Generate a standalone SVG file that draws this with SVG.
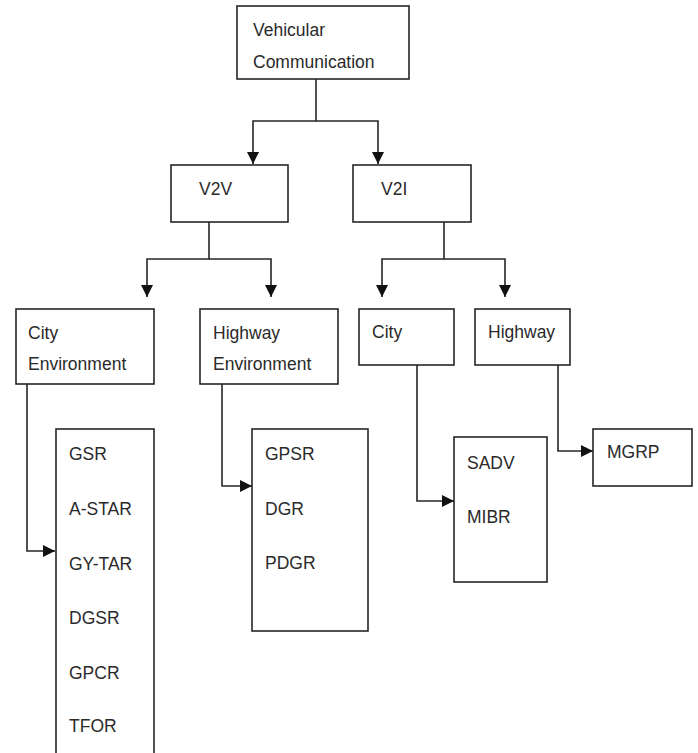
<svg xmlns="http://www.w3.org/2000/svg" width="698" height="753" viewBox="0 0 698 753">
  <style>
    .box { fill: #ffffff; stroke: #262626; stroke-width: 1.6; }
    .lbl { font-family: "Liberation Sans", Arial, sans-serif; font-size: 17.5px; fill: #2a2a2a; }
    .wire { fill: none; stroke: #262626; stroke-width: 1.6; marker-end: url(#arrow); }
  </style>
  <defs>
    <marker id="arrow" markerUnits="userSpaceOnUse" markerWidth="14" markerHeight="12" refX="12" refY="6" orient="auto">
      <path d="M0,0 L12,6 L0,12 Z" fill="#111111"/>
    </marker>
  </defs>
  <rect width="698" height="753" fill="#ffffff"/>

  <!-- connectors -->
  <g id="connectors">
    <path class="wire" d="M316,79 V121 H253 V164"/>
    <path class="wire" d="M316,121 H378 V164"/>
    <path class="wire" d="M209,222 V259 H147 V297"/>
    <path class="wire" d="M209,259 H271 V297"/>
    <path class="wire" d="M444,222 V259 H382 V297"/>
    <path class="wire" d="M444,259 H505 V297"/>
    <path class="wire" d="M27,384 V551 H55"/>
    <path class="wire" d="M222,384 V486 H252"/>
    <path class="wire" d="M417,365 V501 H454"/>
    <path class="wire" d="M558,365 V451 H593"/>
  </g>

  <g id="vehicular-communication">
    <rect class="box" x="237" y="6" width="172" height="73"/>
    <text class="lbl" x="253" y="36">Vehicular</text>
    <text class="lbl" x="253" y="68">Communication</text>
  </g>

  <g id="v2v">
    <rect class="box" x="171" y="165" width="117" height="57"/>
    <text class="lbl" x="199" y="195">V2V</text>
  </g>

  <g id="v2i">
    <rect class="box" x="353" y="165" width="118" height="57"/>
    <text class="lbl" x="381" y="195">V2I</text>
  </g>

  <g id="city-environment">
    <rect class="box" x="16" y="309" width="138" height="75"/>
    <text class="lbl" x="28" y="339">City</text>
    <text class="lbl" x="28" y="370">Environment</text>
  </g>

  <g id="highway-environment">
    <rect class="box" x="200" y="309" width="138" height="75"/>
    <text class="lbl" x="213" y="339">Highway</text>
    <text class="lbl" x="213" y="370">Environment</text>
  </g>

  <g id="city">
    <rect class="box" x="359" y="309" width="95" height="56"/>
    <text class="lbl" x="372" y="338">City</text>
  </g>

  <g id="highway">
    <rect class="box" x="475" y="309" width="95" height="56"/>
    <text class="lbl" x="488" y="338">Highway</text>
  </g>

  <g id="city-env-protocols">
    <rect class="box" x="56" y="429" width="98" height="330"/>
    <text class="lbl" x="69" y="460">GSR</text>
    <text class="lbl" x="69" y="515">A-STAR</text>
    <text class="lbl" x="69" y="570">GY-TAR</text>
    <text class="lbl" x="69" y="624">DGSR</text>
    <text class="lbl" x="69" y="679">GPCR</text>
    <text class="lbl" x="69" y="732">TFOR</text>
  </g>

  <g id="highway-env-protocols">
    <rect class="box" x="252" y="429" width="116" height="202"/>
    <text class="lbl" x="265" y="460">GPSR</text>
    <text class="lbl" x="265" y="515">DGR</text>
    <text class="lbl" x="265" y="569">PDGR</text>
  </g>

  <g id="city-protocols">
    <rect class="box" x="454" y="437" width="93" height="145"/>
    <text class="lbl" x="467" y="469">SADV</text>
    <text class="lbl" x="467" y="523">MIBR</text>
  </g>

  <g id="highway-protocols">
    <rect class="box" x="593" y="429" width="99" height="57"/>
    <text class="lbl" x="607" y="458">MGRP</text>
  </g>
</svg>
